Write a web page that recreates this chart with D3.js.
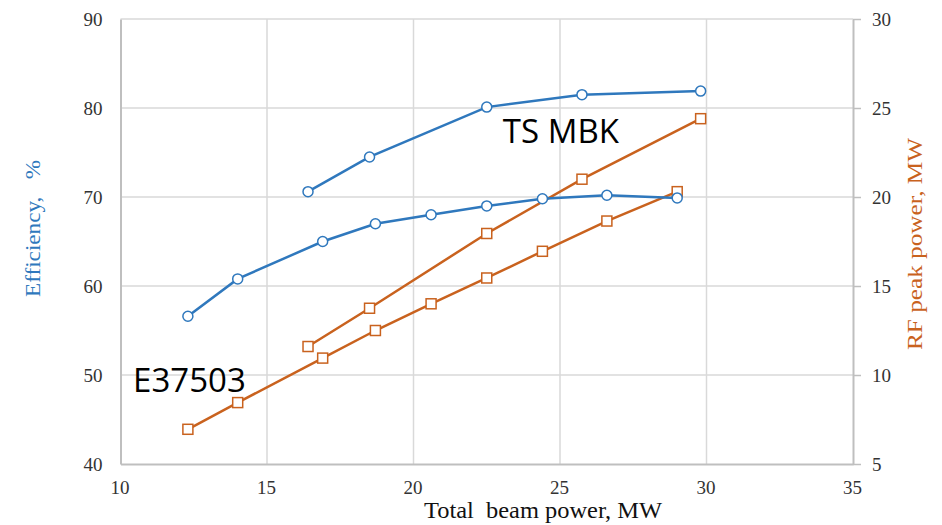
<!DOCTYPE html>
<html>
<head>
<meta charset="utf-8">
<script src="https://cdn.jsdelivr.net/npm/d3@7"></script>
<style>
  body { margin: 0; background: #fff; }
  .tick-label { font-family: "Liberation Serif", serif; font-size: 19px; fill: #333; }
  .axis-title { font-family: "Liberation Serif", serif; font-size: 22px; white-space: pre; }
  .note { font-family: "Open Sans", "Noto Sans", sans-serif; font-size: 33px; fill: #000; }
</style>
</head>
<body>
<div id="chart"></div>
<script>
//////////////////////////////////////////////////////////////
//////////////////////// Data ////////////////////////////////
//////////////////////////////////////////////////////////////

//TS MBK
const tsPower = [16.4, 18.5, 22.5, 25.75, 29.8]
const tsEff = [70.6, 74.5, 80.1, 81.5, 81.9]
const tsRf = [11.6, 13.75, 17.95, 21.0, 24.4]

//E37503
const ePower = [12.3, 14.0, 16.9, 18.7, 20.6, 22.5, 24.4, 26.6, 29.0]
const eEff = [56.6, 60.8, 65.0, 67.0, 68.0, 69.0, 69.8, 70.2, 69.9]
const eRf = [6.95, 8.45, 10.95, 12.5, 14.0, 15.45, 16.95, 18.65, 20.3]

const xTicks = [10, 15, 20, 25, 30, 35]
const effTicks = [40, 50, 60, 70, 80, 90]
const rfTicks = [5, 10, 15, 20, 25, 30]

const blue = "#2f78bd"
const orange = "#c9621e"

//////////////////////////////////////////////////////////////
//////////////////////// Create SVG //////////////////////////
//////////////////////////////////////////////////////////////

const margin = { top: 19, right: 89, bottom: 61, left: 120.5 }
const width = 942 - margin.left - margin.right
const height = 525 - margin.top - margin.bottom

const svgRoot = d3.select("#chart").append("svg")
    .attr("width", 942)
    .attr("height", 525)

const svg = svgRoot.append("g")
    .attr("transform", "translate(" + margin.left + "," + margin.top + ")")

//////////////////////////////////////////////////////////////
////////////////////// Create scales /////////////////////////
//////////////////////////////////////////////////////////////

const x = d3.scaleLinear().domain([10, 35]).range([0, width])
const yEff = d3.scaleLinear().domain([40, 90]).range([height, 0])
const yRf = d3.scaleLinear().domain([5, 30]).range([height, 0])

//////////////////////////////////////////////////////////////
///////////////////////// Gridlines //////////////////////////
//////////////////////////////////////////////////////////////

const grid = svg.append("g").attr("class", "grid")

grid.selectAll(".vgrid")
    .data(xTicks.slice(1, -1))
    .enter().append("line")
    .attr("x1", d => x(d)).attr("x2", d => x(d))
    .attr("y1", 0).attr("y2", height)
    .style("stroke", "#d9d9d9").style("stroke-width", 1.5)

grid.selectAll(".hgrid")
    .data(effTicks.slice(1))
    .enter().append("line")
    .attr("x1", 0).attr("x2", width)
    .attr("y1", d => yEff(d)).attr("y2", d => yEff(d))
    .style("stroke", "#d9d9d9").style("stroke-width", 1.5)

//////////////////////////////////////////////////////////////
/////////////////////////// Axes /////////////////////////////
//////////////////////////////////////////////////////////////

const xAxis = svg.append("g")
    .attr("transform", "translate(0," + height + ")")
    .call(d3.axisBottom(x).tickValues(xTicks).tickSize(0).tickPadding(17))
xAxis.select(".domain").style("stroke", "#bfbfbf").style("stroke-width", 2)
xAxis.selectAll(".tick text").attr("dx", -1)

const leftAxis = svg.append("g")
    .call(d3.axisLeft(yEff).tickValues(effTicks).tickSize(0).tickPadding(18))
leftAxis.select(".domain").style("stroke", "#bfbfbf").style("stroke-width", 2)

const rightAxis = svg.append("g")
    .attr("transform", "translate(" + width + ",0)")
    .call(d3.axisRight(yRf).tickValues(rfTicks).tickSize(8).tickSizeOuter(0).tickPadding(11))
rightAxis.select(".domain").style("stroke", "#bfbfbf").style("stroke-width", 2)
rightAxis.selectAll(".tick line").style("stroke", "#bfbfbf").style("stroke-width", 1.5)

svg.selectAll(".tick text")
    .attr("class", "tick-label")
    .attr("font-family", null)
    .attr("font-size", null)
    .attr("fill", null)

//Axis titles
svg.append("text")
    .attr("class", "axis-title")
    .attr("x", 424 - margin.left)
    .attr("y", height + 54)
    .attr("textLength", 238)
    .attr("lengthAdjust", "spacingAndGlyphs")
    .style("fill", "#111")
    .style("font-size", "24px")
    .text("Total  beam power, MW")

svg.append("text")
    .attr("class", "axis-title")
    .attr("transform", "translate(" + (40 - margin.left) + "," + (297 - margin.top) + ") rotate(-90)")
    .attr("textLength", 137)
    .attr("lengthAdjust", "spacingAndGlyphs")
    .style("fill", blue)
    .text("Efficiency,   %")

svg.append("text")
    .attr("class", "axis-title")
    .attr("transform", "translate(" + (922 - margin.left) + "," + (350 - margin.top) + ") rotate(-90)")
    .attr("textLength", 212)
    .attr("lengthAdjust", "spacingAndGlyphs")
    .style("fill", orange)
    .text("RF peak power, MW")

//////////////////////////////////////////////////////////////
///////////////////////// Draw lines /////////////////////////
//////////////////////////////////////////////////////////////

const series = [
    { xs: ePower, ys: eRf, scale: yRf, color: orange, marker: "square" },
    { xs: tsPower, ys: tsRf, scale: yRf, color: orange, marker: "square" },
    { xs: ePower, ys: eEff, scale: yEff, color: blue, marker: "circle" },
    { xs: tsPower, ys: tsEff, scale: yEff, color: blue, marker: "circle" }
]

series.forEach(s => {
    const pts = s.xs.map((d, i) => [d, s.ys[i]])
    const line = d3.line()
        .x(d => x(d[0]))
        .y(d => s.scale(d[1]))

    svg.append("path")
        .attr("d", line(pts))
        .style("fill", "none")
        .style("stroke", s.color)
        .style("stroke-width", 2.5)

    if (s.marker === "circle") {
        svg.selectAll(null)
            .data(pts)
            .enter().append("circle")
            .attr("cx", d => x(d[0]))
            .attr("cy", d => s.scale(d[1]))
            .attr("r", 5)
            .style("fill", "#fff")
            .style("stroke", s.color)
            .style("stroke-width", 1.5)
    } else {
        svg.selectAll(null)
            .data(pts)
            .enter().append("rect")
            .attr("x", d => x(d[0]) - 5)
            .attr("y", d => s.scale(d[1]) - 5)
            .attr("width", 10)
            .attr("height", 10)
            .style("fill", "#fff")
            .style("stroke", s.color)
            .style("stroke-width", 1.5)
    }
})

//////////////////////////////////////////////////////////////
/////////////////////// Annotations //////////////////////////
//////////////////////////////////////////////////////////////

svg.append("text")
    .attr("class", "note")
    .attr("x", x(23.05))
    .attr("y", yEff(76.1))
    .text("TS MBK")

svg.append("text")
    .attr("class", "note")
    .attr("x", x(10.43))
    .attr("y", yEff(48.1))
    .text("E37503")
</script>
</body>
</html>
